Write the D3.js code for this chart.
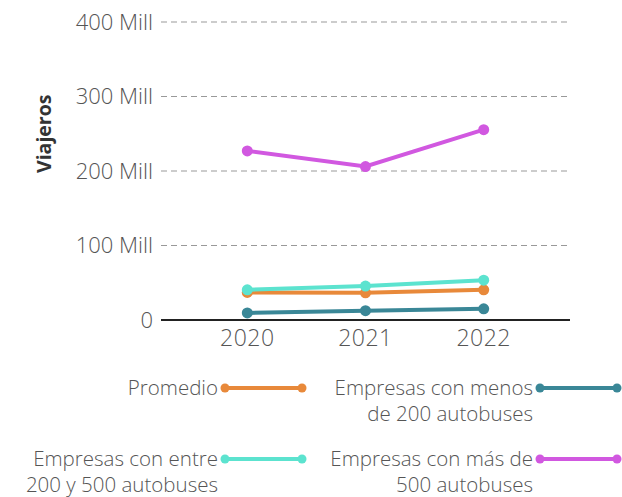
<!DOCTYPE html>
<html>
<head>
<meta charset="utf-8">
<script src="https://cdn.jsdelivr.net/npm/d3@7"></script>
<style>
  body { margin: 0; background: #fff; }
  svg text { font-family: "Open Sans", sans-serif; fill: #555; font-weight: 300; }
</style>
</head>
<body>
<svg width="622" height="497"></svg>
<script>
const years = ["2020", "2021", "2022"];
const yTicks = [0, 100, 200, 300, 400];
const seriesNames = [
  "Promedio",
  "Empresas con menos de 200 autobuses",
  "Empresas con entre 200 y 500 autobuses",
  "Empresas con más de 500 autobuses"
];
const legendLines = [
  ["Promedio"],
  ["Empresas con menos", "de 200 autobuses"],
  ["Empresas con entre", "200 y 500 autobuses"],
  ["Empresas con más de", "500 autobuses"]
];
const colors = ["#e8893a", "#3a8797", "#5ce3cf", "#d158e0"];
// millones de viajeros
const promedio = [37, 36.5, 40.5];
const menos200 = [9.5, 12.5, 15];
const entre200y500 = [40.5, 45.5, 53.5];
const mas500 = [227, 206, 255.5];
const values = [promedio, menos200, entre200y500, mas500];

const svg = d3.select("svg");
const x = d3.scalePoint().domain(years).range([161, 570]).padding(0.73);
const y = d3.scaleLinear().domain([0, 400]).range([320, 22]);

// Grid
svg.append("g")
  .selectAll("line")
  .data(yTicks.filter(d => d > 0))
  .enter()
  .append("line")
  .attr("x1", 161)
  .attr("x2", 570)
  .attr("y1", d => y(d))
  .attr("y2", d => y(d))
  .attr("stroke", "#999")
  .attr("stroke-width", 1.2)
  .attr("stroke-dasharray", "6,4");

// Y labels
svg.append("g")
  .selectAll("text")
  .data(yTicks)
  .enter()
  .append("text")
  .attr("x", 153)
  .attr("y", d => y(d))
  .attr("dy", "0.35em")
  .attr("text-anchor", "end")
  .style("font-size", "22px")
  .text(d => d === 0 ? "0" : d + " Mill");

svg.append("text")
  .attr("transform", "translate(51," + y(250) + ") rotate(-90)")
  .attr("text-anchor", "middle")
  .style("font-size", "19.5px")
  .style("font-weight", "bold")
  .style("fill", "#333")
  .text("Viajeros");

// X axis
svg.append("line")
  .attr("x1", 161).attr("x2", 570)
  .attr("y1", y(0)).attr("y2", y(0))
  .attr("stroke", "#222")
  .attr("stroke-width", 2);

svg.append("g")
  .selectAll("text")
  .data(years)
  .enter()
  .append("text")
  .attr("x", d => x(d))
  .attr("y", 338)
  .attr("dy", "0.35em")
  .attr("text-anchor", "middle")
  .style("font-size", "23px")
  .style("letter-spacing", "0.5px")
  .text(d => d);

// Lines
const line = d3.line().x((d, i) => x(years[i])).y(d => y(d));
const series = svg.append("g")
  .selectAll("g")
  .data(values)
  .enter()
  .append("g");

series.append("path")
  .attr("d", d => line(d))
  .attr("fill", "none")
  .attr("stroke", (d, i) => colors[i])
  .attr("stroke-width", 4);

series.selectAll("circle")
  .data((d, i) => d.map(v => ({ v: v, c: colors[i] })))
  .enter()
  .append("circle")
  .attr("cx", (d, j) => x(years[j]))
  .attr("cy", d => y(d.v))
  .attr("r", 5.5)
  .attr("fill", d => d.c);

// Legend
const legendPos = [[225, 388], [540, 388], [225, 459], [540, 459]];
const leg = svg.append("g")
  .selectAll("g")
  .data(seriesNames)
  .enter()
  .append("g")
  .attr("transform", (d, i) => "translate(" + legendPos[i][0] + "," + legendPos[i][1] + ")");

leg.append("line")
  .attr("x1", 0).attr("x2", 77)
  .attr("stroke", (d, i) => colors[i])
  .attr("stroke-width", 4);
leg.selectAll("circle")
  .data((d, i) => [0, 77].map(cx => ({ cx: cx, c: colors[i] })))
  .enter()
  .append("circle")
  .attr("cx", d => d.cx)
  .attr("r", 4.5)
  .attr("fill", d => d.c);

leg.append("text")
  .attr("x", -7)
  .attr("text-anchor", "end")
  .style("font-size", "20.5px")
  .selectAll("tspan")
  .data((d, i) => legendLines[i])
  .enter()
  .append("tspan")
  .attr("x", -7)
  .attr("y", (d, j) => j * 26)
  .attr("dy", "0.35em")
  .text(d => d);
</script>
</body>
</html>
